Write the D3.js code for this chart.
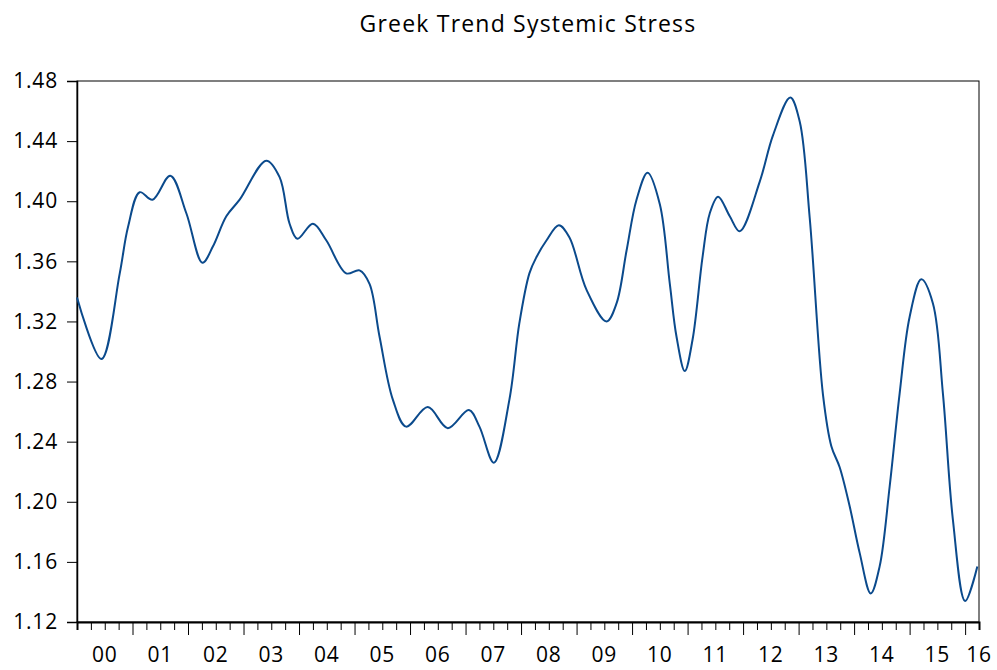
<!DOCTYPE html>
<html>
<head>
<meta charset="utf-8">
<script src="https://cdn.jsdelivr.net/npm/d3@7"></script>
<style>
  body { margin: 0; background: #fff; }
  text { font-family: "Open Sans", Lato, sans-serif; fill: #000; }
</style>
</head>
<body>
<div id="chart"></div>
<script>
// size of the picture
const width = 997;
const height = 670;
const margin = {top: 81, right: 18, bottom: 48, left: 77};

const title = "Greek Trend Systemic Stress";

// time in decimal years
const years = [
    2000.00, 2000.44, 2000.77, 2000.92, 2001.13, 2001.36, 2001.68, 2001.97,
    2002.26, 2002.45, 2002.69, 2002.93, 2003.41, 2003.65, 2003.83, 2003.97,
    2004.25, 2004.49, 2004.85, 2005.09, 2005.27, 2005.45, 2005.69, 2005.93,
    2006.32, 2006.68, 2007.06, 2007.25, 2007.51, 2007.79, 2007.97, 2008.15,
    2008.28, 2008.46, 2008.68, 2008.87, 2009.18, 2009.54, 2009.72, 2009.90,
    2010.08, 2010.28, 2010.50, 2010.68, 2010.80, 2010.95, 2011.09, 2011.27,
    2011.40, 2011.55, 2011.76, 2011.94, 2012.30, 2012.54, 2012.85, 2013.02,
    2013.20, 2013.44, 2013.59, 2013.74, 2013.92, 2014.10, 2014.30, 2014.46,
    2014.64, 2014.82, 2015.00, 2015.21, 2015.42, 2015.60, 2015.78, 2016.00,
    2016.22
];
const stress = [
    1.336, 1.295, 1.352, 1.383, 1.406, 1.401, 1.417, 1.392,
    1.359, 1.370, 1.390, 1.401, 1.427, 1.416, 1.385, 1.375,
    1.385, 1.374, 1.352, 1.354, 1.345, 1.310, 1.268, 1.250,
    1.263, 1.249, 1.261, 1.250, 1.226, 1.268, 1.319, 1.352,
    1.363, 1.374, 1.384, 1.376, 1.341, 1.320, 1.332, 1.367,
    1.401, 1.419, 1.398, 1.345, 1.310, 1.287, 1.308, 1.363,
    1.392, 1.403, 1.390, 1.380, 1.413, 1.444, 1.469, 1.453,
    1.389, 1.271, 1.237, 1.223, 1.197, 1.166, 1.139, 1.157,
    1.210, 1.272, 1.323, 1.348, 1.332, 1.272, 1.188, 1.134,
    1.157
];

// axis labels
const yTicks = [1.12, 1.16, 1.20, 1.24, 1.28, 1.32, 1.36, 1.40, 1.44, 1.48];
const yearLabels = ["00", "01", "02", "03", "04", "05", "06", "07", "08",
                    "09", "10", "11", "12", "13", "14", "15", "16"];

const svg = d3.select("#chart")
    .append("svg")
    .attr("width", width)
    .attr("height", height);

const x = d3.scaleLinear()
    .domain([2000, 2016.25])
    .range([margin.left, width - margin.right]);

const y = d3.scaleLinear()
    .domain([1.12, 1.48])
    .range([height - margin.bottom, margin.top]);

// title
svg.append("text")
    .attr("x", 528)
    .attr("y", 32)
    .attr("text-anchor", "middle")
    .style("font-size", "23px")
    .style("letter-spacing", "1.2px")
    .text(title);

// frame
svg.append("rect")
    .attr("x", margin.left)
    .attr("y", margin.top)
    .attr("width", width - margin.left - margin.right)
    .attr("height", height - margin.top - margin.bottom)
    .attr("fill", "none")
    .attr("stroke", "#000")
    .attr("stroke-width", 1);

// y axis
const yAxis = svg.append("g")
    .attr("transform", `translate(${margin.left},0)`)
    .call(d3.axisLeft(y).tickValues(yTicks).tickFormat(d3.format(".2f"))
        .tickSize(10).tickPadding(9));
yAxis.select(".domain").attr("stroke-width", 1.5);
yAxis.selectAll("text")
    .style("font-size", "21px")
    .style("letter-spacing", "0.8px")
    .attr("font-family", null);

// x axis: quarter ticks, longer ticks at the start of each year
const quarters = d3.range(0, 65).map(i => 2000 + i * 0.25);
const xAxis = svg.append("g")
    .attr("transform", `translate(0,${height - margin.bottom})`)
    .call(d3.axisBottom(x).tickValues(quarters).tickSize(8).tickFormat(""));
xAxis.select(".domain").attr("stroke-width", 2);
xAxis.selectAll(".tick line")
    .attr("y2", d => (Math.abs(d - Math.round(d)) < 1e-6 && d > 2000) ? 13 : 8);

// year labels centred inside each year
svg.append("g")
    .selectAll("text")
    .data(yearLabels)
    .enter()
    .append("text")
    .attr("x", (d, i) => x(Math.min(2000 + i + 0.5, 2016.25)))
    .attr("y", 662)
    .attr("text-anchor", "middle")
    .style("font-size", "21px")
    .style("letter-spacing", "0.8px")
    .text(d => d);

// the series
const line = d3.line()
    .x((d, i) => x(years[i]))
    .y(d => y(d))
    .curve(d3.curveCatmullRom.alpha(0.5));

svg.append("path")
    .datum(stress)
    .attr("d", line)
    .attr("fill", "none")
    .attr("stroke", "#0b4a8c")
    .attr("stroke-width", 2);
</script>
</body>
</html>
